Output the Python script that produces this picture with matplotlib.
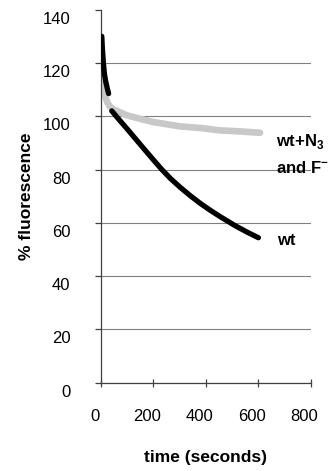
import matplotlib
matplotlib.use('Agg')
import matplotlib.pyplot as plt
import matplotlib.transforms as mtransforms

plt.rcParams['font.family'] = ['Liberation Sans', 'DejaVu Sans']
plt.rcParams['mathtext.fontset'] = 'custom'
plt.rcParams['mathtext.rm'] = 'Liberation Sans'
plt.rcParams['mathtext.bf'] = 'Liberation Sans:bold'

# wt trace (two runs of points, small gap after the first drop)
wt_t1 = [3, 5, 7, 9, 13, 18, 25, 29]
wt_y1 = [130, 126, 123, 120, 116, 113, 110, 108.5]
wt_t2 = [41, 70, 100, 130, 160, 200, 231, 263, 301, 340, 377, 415, 453, 510, 555, 600]
wt_y2 = [102, 98.6, 95.2, 91.7, 88.2, 83.6, 80.1, 76.8, 73.4, 70.2, 67.4, 64.8,
         62.4, 59.0, 56.6, 54.4]

# wt + N3 and F- trace
nf_t = [0, 5, 10, 15, 25, 35, 50, 72, 100, 150, 200, 263, 300, 377, 453, 530, 606]
nf_y = [115, 112, 109.5, 107.5, 105, 103.5, 102.5, 101.5, 100.3, 99, 97.8, 96.8,
        96.2, 95.6, 94.7, 94.3, 93.8]

x_ticks = [0, 200, 400, 600, 800]
y_ticks = [0, 20, 40, 60, 80, 100, 120, 140]

fig = plt.figure(figsize=(3.35, 4.71), dpi=100)
ax = fig.add_axes([0.3015, 0.1875, 0.6265, 0.792])

ax.plot(nf_t, nf_y, color='#c8c8c8', lw=4.8, solid_capstyle='round',
        solid_joinstyle='round', zorder=2)
ax.plot(wt_t1, wt_y1, color='black', lw=3.8, solid_capstyle='round',
        solid_joinstyle='round', zorder=3)
ax.plot(wt_t2, wt_y2, color='black', lw=3.8, solid_capstyle='round',
        solid_joinstyle='round', zorder=3)

ax.set_xlim(0, 800)
ax.set_ylim(0, 140)
ax.set_xticks(x_ticks)
ax.set_yticks(y_ticks)

ax.grid(axis='y', color='#808080', lw=0.8)
ax.yaxis.get_gridlines()[-1].set_visible(False)
ax.set_axisbelow(True)

for s in ['top', 'right']:
    ax.spines[s].set_visible(False)
for s in ['left', 'bottom']:
    ax.spines[s].set_color('#404040')
    ax.spines[s].set_linewidth(0.9)

ax.tick_params(axis='y', direction='out', length=4, width=0.9, color='#404040',
               labelsize=12, pad=18)
ax.tick_params(axis='x', direction='inout', length=6, width=0.9, color='#404040',
               labelsize=12, pad=16)

# labels in the original sit a bit off their ticks
dy = mtransforms.ScaledTranslation(0, -8 / 100, fig.dpi_scale_trans)
for lab in ax.get_yticklabels():
    lab.set_transform(lab.get_transform() + dy)
dx = mtransforms.ScaledTranslation(-6.5 / 100, 0, fig.dpi_scale_trans)
for lab in ax.get_xticklabels():
    lab.set_transform(lab.get_transform() + dx)

ax.set_xlabel('time (seconds)', fontsize=12.5, fontweight='bold')
ax.set_ylabel('% fluorescence', fontsize=12.5, fontweight='bold')
ax.xaxis.set_label_coords(0.5, -0.18)
ax.yaxis.set_label_coords(-0.32, 0.5)

ax.text(667, 90.4, r'wt+N$_{\mathbf{3}}$', fontsize=12, fontweight='bold',
        va='center', ha='left', clip_on=False)
ax.text(667, 80.6, r'and F$^{\mathbf{-}}$', fontsize=12, fontweight='bold',
        va='center', ha='left', clip_on=False)
ax.text(670, 53.5, 'wt', fontsize=12, fontweight='bold', va='center', ha='left',
        clip_on=False)

fig.savefig('out.png', dpi=100)
